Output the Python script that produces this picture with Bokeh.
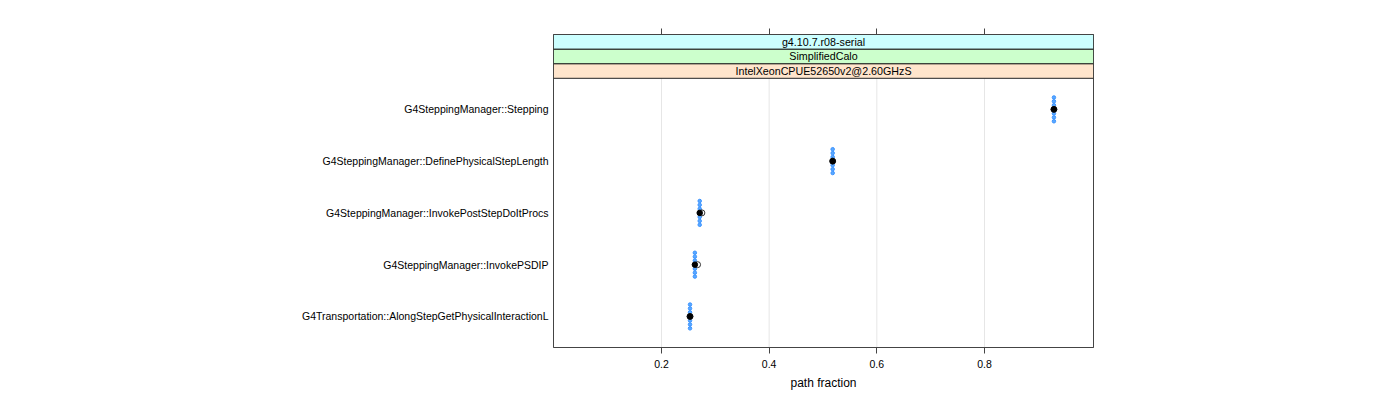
from bokeh.plotting import figure
from bokeh.models import Range1d, FixedTicker, LinearAxis
from bokeh.core.properties import value
from bokeh.embed import file_html
from bokeh.resources import INLINE

# ---- data ----
functions = [
    "G4Transportation::AlongStepGetPhysicalInteractionL",
    "G4SteppingManager::InvokePSDIP",
    "G4SteppingManager::InvokePostStepDoItProcs",
    "G4SteppingManager::DefinePhysicalStepLength",
    "G4SteppingManager::Stepping",
]
mean_fraction = [0.253, 0.262, 0.271, 0.518, 0.929]
median_fraction = [0.253, 0.267, 0.275, 0.518, 0.929]
sample_fraction = [0.253, 0.262, 0.271, 0.518, 0.929]
strip_labels = ["IntelXeonCPUE52650v2@2.60GHzS", "SimplifiedCalo", "g4.10.7.r08-serial"]
strip_colors = ["#ffe5cc", "#ccffcc", "#ccffff"]
x_ticks = [0.2, 0.4, 0.6, 0.8]
sample_offsets = [-0.23, -0.155, -0.08, 0.0, 0.08, 0.155, 0.23]

FONT = "Liberation Sans"
x0, x1 = -0.0006, 1.0025
y0, ytop_data = 0.4, 5.6
strip_h = 44.0 / 52.0 / 3
y1 = ytop_data + 3 * strip_h

p = figure(width=1384, height=392, output_backend="svg", toolbar_location=None,
           x_range=Range1d(x0, x1), y_range=Range1d(y0, y1),
           min_border_left=553, min_border_right=291, min_border_top=34, min_border_bottom=44)
p.background_fill_color = "white"
p.outline_line_color = "#444444"
p.grid.visible = False

# x axis (bottom)
xa = p.xaxis[0]
xa.ticker = FixedTicker(ticks=x_ticks)
xa.axis_label = "path fraction"
xa.axis_label_text_font = FONT
xa.axis_label_text_font_size = "12px"
xa.axis_label_text_font_style = "normal"
xa.axis_label_text_color = "black"
xa.axis_label_standoff = 5
xa.major_label_text_font = FONT
xa.major_label_text_font_size = "10.5px"
xa.major_label_text_color = "black"
xa.major_label_standoff = 6
xa.major_tick_out = 6
xa.major_tick_in = 0
xa.minor_tick_out = 0
xa.minor_tick_in = 0
xa.axis_line_color = "#444444"
xa.major_tick_line_color = "#444444"

# top ticks (no labels)
ta = LinearAxis(ticker=FixedTicker(ticks=x_ticks),
                major_label_overrides={t: "" for t in x_ticks},
                major_tick_out=6, major_tick_in=0, minor_tick_out=0, minor_tick_in=0,
                axis_line_color="#444444", major_tick_line_color="#444444", major_label_standoff=0)
p.add_layout(ta, "above")

# y axis (left)
ya = p.yaxis[0]
ya.ticker = FixedTicker(ticks=[1, 2, 3, 4, 5])
ya.major_label_overrides = {i + 1: name for i, name in enumerate(functions)}
ya.major_label_text_font = FONT
ya.major_label_text_font_size = "10.5px"
ya.major_label_text_color = "black"
ya.major_label_standoff = 5
ya.major_tick_out = 0
ya.major_tick_in = 0
ya.minor_tick_out = 0
ya.minor_tick_in = 0
ya.axis_line_color = None

# gridlines in data region only
p.segment(x0=x_ticks, y0=[y0] * len(x_ticks), x1=x_ticks, y1=[ytop_data] * len(x_ticks),
          line_color="#e6e6e6", line_width=1)

# strips
for i, (lab, col) in enumerate(zip(strip_labels, strip_colors)):
    b = ytop_data + i * strip_h
    p.quad(left=[x0], right=[x1], bottom=[b], top=[b + strip_h],
           fill_color=col, line_color="#222222", line_width=1)
    p.text(x=[(x0 + x1) / 2], y=[b + strip_h / 2], text=[lab],
           text_font=value(FONT), text_font_size="10.7px", text_align="center",
           text_baseline="middle", text_color="black")

# sample points (blue)
sx, sy = [], []
for i, v in enumerate(sample_fraction):
    for o in sample_offsets:
        sx.append(v)
        sy.append(i + 1 + o)
p.scatter(x=sx, y=sy, marker="circle", size=3.5, fill_color="#5aa9ff", line_color="#3b93ff",
          line_width=1)

ys = list(range(1, len(functions) + 1))
# median (open circle)
p.scatter(x=median_fraction, y=ys, marker="circle", size=6, fill_color=None,
          line_color="#333333", line_width=1)
# mean (filled black)
p.scatter(x=mean_fraction, y=ys, marker="circle", size=5.5, fill_color="black",
          line_color="black")

open("out.html", "w").write(file_html(p, INLINE))
